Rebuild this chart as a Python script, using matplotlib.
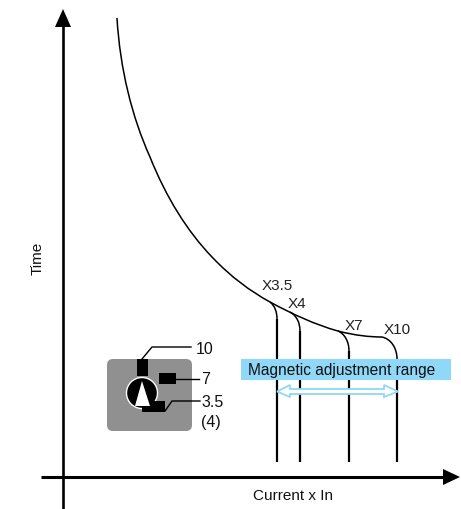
import matplotlib
matplotlib.use("Agg")
import matplotlib.pyplot as plt
from matplotlib.patches import Circle, FancyBboxPatch, PathPatch, Polygon, Rectangle
from matplotlib.path import Path

plt.rcParams['font.family'] = ['Liberation Sans', 'DejaVu Sans']

# Everything in pixel coordinates
# Tripping curve as cubic bezier knots: start, then (ctrl, ctrl, end) per segment
curve_x = [117, 120, 132, 150, 166, 187, 212, 231, 250, 270, 292, 316, 338, 355, 370, 382]
curve_y = [19, 70, 118, 158, 198, 232, 258, 278, 292, 303, 315, 326, 332, 336.5, 338, 338]

# Drop from the curve down to each vertical line
trip_labels = ['X3.5', 'X4', 'X7', 'X10']
trip_x = [277, 300, 349, 397]
drop_x = [[270, 275, 277, 277], [290, 297, 300, 300], [338, 345, 349, 349], [382, 391, 397, 397]]
drop_y = [[303, 307, 313, 320], [313, 317, 324, 332], [332, 335, 343, 352], [338, 340, 349, 360]]
trip_label_x = [262, 288, 345, 384]
trip_label_y = [286, 304, 326, 330]
line_bottom = 463

dial_labels = ['10', '7', '3.5', '(4)']
dial_label_x = [196, 201, 201, 201]
dial_label_y = [350, 380, 403, 423]


def bezier(ax, xs, ys):
    codes = [Path.MOVETO] + [Path.CURVE4] * (len(xs) - 1)
    ax.add_patch(PathPatch(Path(list(zip(xs, ys)), codes), fc='none', ec='black', lw=1.1))


fig = plt.figure(figsize=(4.61, 5.10), dpi=100)
ax = fig.add_axes([0, 0, 1, 1])
ax.set_xlim(0, 461)
ax.set_ylim(510, 0)
ax.axis('off')

# Axes with arrow heads
ax.plot([63, 63], [510, 25], color='black', lw=1.9, solid_capstyle='butt')
ax.add_patch(Polygon([[63, 10], [55, 28], [71, 28]], fc='black', ec='none'))
ax.plot([41, 446], [478, 478], color='black', lw=2.2, solid_capstyle='butt')
ax.add_patch(Polygon([[460, 478], [443, 470], [443, 486]], fc='black', ec='none'))

# Tripping curve
bezier(ax, curve_x, curve_y)
for i in range(len(trip_x)):
    bezier(ax, drop_x[i], drop_y[i])
    ax.plot([trip_x[i], trip_x[i]], [drop_y[i][-1], line_bottom], color='black', lw=1.6, solid_capstyle='butt')
    ax.text(trip_label_x[i], trip_label_y[i], trip_labels[i], fontsize=11, va='center', ha='left', color='#222222')

# Magnetic adjustment band and double arrow
ax.add_patch(Rectangle((241, 360), 210, 21, fc='#8fd8f8', ec='none', zorder=3))
ax.text(248, 371, 'Magnetic adjustment range', fontsize=11.2, va='center', ha='left', color='#111111', zorder=4)
arrow = [[277, 392.5], [290, 386], [290, 390], [384, 390], [384, 386], [398, 392.5], [384, 398], [384, 395], [290, 395], [290, 398]]
ax.add_patch(Polygon(arrow, fc='white', ec='#8fd8f8', lw=1.3, zorder=4))

# Dial
ax.add_patch(FancyBboxPatch((113, 366), 73, 60, boxstyle='round,pad=6', fc='#909090', ec='none'))
ax.add_patch(Rectangle((137, 360), 11, 17, fc='black', ec='none', zorder=3))
ax.add_patch(Rectangle((159, 374), 17, 11, fc='black', ec='none', zorder=3))
ax.add_patch(Circle((142, 394), 15.5, fc='black', ec='white', lw=1, zorder=3))
ax.add_patch(Polygon([[142, 382], [135, 407], [150, 407]], fc='white', ec='none', zorder=4))
ax.add_patch(Rectangle((142, 402), 23, 11, fc='black', ec='none', zorder=3))

# Leaders
ax.plot([142, 152, 191], [360, 348, 348], color='black', lw=1)
ax.plot([176, 199], [380, 380], color='black', lw=1)
ax.plot([165, 172, 200], [412, 402, 402], color='black', lw=1, zorder=3)
for i in range(len(dial_labels)):
    ax.text(dial_label_x[i], dial_label_y[i], dial_labels[i], fontsize=11.5, va='center', ha='left', color='#111111')

# Axis titles
ax.text(38, 258, 'Time', fontsize=11, rotation=90, va='center', ha='center', color='#111111')
ax.text(293, 496, 'Current x In', fontsize=11, va='center', ha='center', color='#111111')

fig.savefig('out.png', dpi=100)
